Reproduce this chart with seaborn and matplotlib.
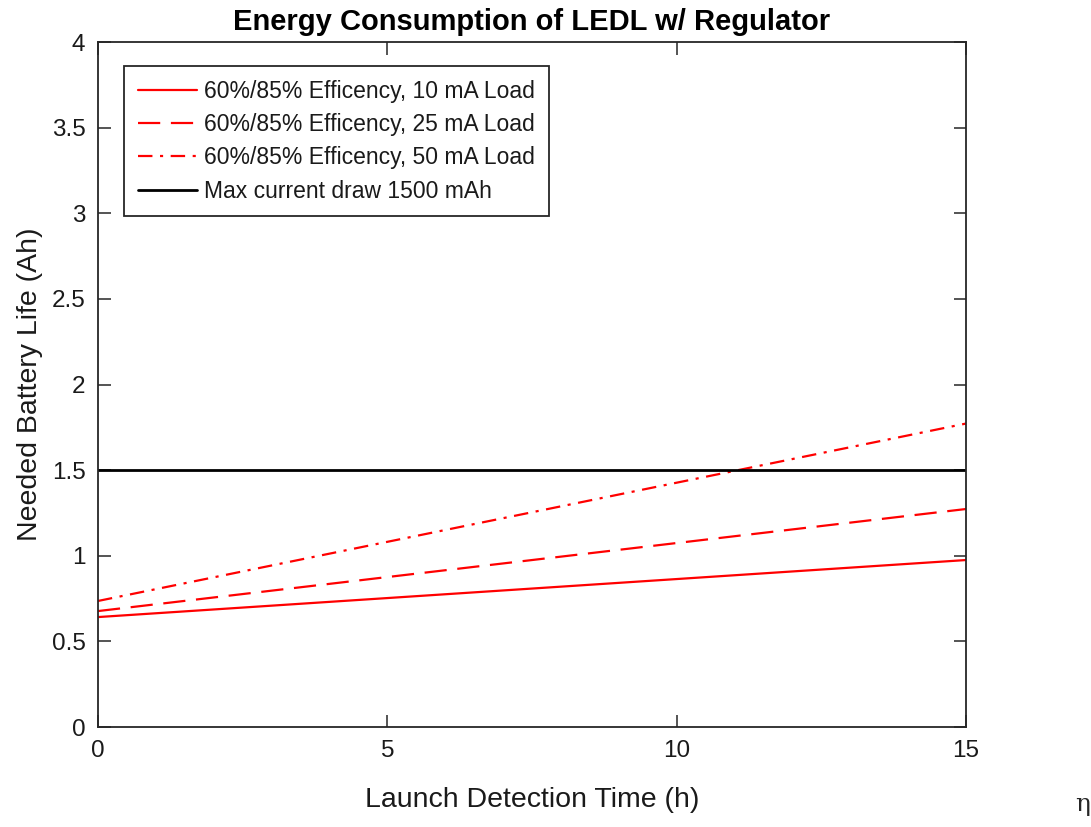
import numpy as np
import pandas as pd
import matplotlib
matplotlib.use("Agg")
import matplotlib.pyplot as plt
import seaborn as sns

# Launch detection time (h) and required battery capacity (Ah)
hours = [0, 15]
load_10ma = [0.642, 0.975]
load_25ma = [0.677, 1.273]
load_50ma = [0.736, 1.772]
max_draw = [1.5, 1.5]

labels = [
    "60%/85% Efficency, 10 mA Load",
    "60%/85% Efficency, 25 mA Load",
    "60%/85% Efficency, 50 mA Load",
    "Max current draw 1500 mAh",
]
x_ticks = [0, 5, 10, 15]
y_ticks = [0, 0.5, 1, 1.5, 2, 2.5, 3, 3.5, 4]
y_tick_labels = ["0", "0.5", "1", "1.5", "2", "2.5", "3", "3.5", "4"]

sns.set_theme(style="white")
plt.rcParams["font.family"] = ["Liberation Sans", "DejaVu Sans"]

df = pd.DataFrame({
    "time": hours * 4,
    "life": load_10ma + load_25ma + load_50ma + max_draw,
    "series": sum([[lab] * len(hours) for lab in labels], []),
})

fig = plt.figure(figsize=(10.91, 8.27), dpi=100)
ax = fig.add_axes([0.0898, 0.1209, 0.7956, 0.8283])

styles = [
    dict(color="#ff0000", ls="-", lw=1.6),
    dict(color="#ff0000", ls=(0, (10, 4.8)), lw=1.6),
    dict(color="#ff0000", ls=(0, (6.5, 3.4, 1.4, 3.4)), lw=1.6),
    dict(color="black", ls="-", lw=2.0),
]
for lab, st in zip(labels, styles):
    sub = df[df["series"] == lab]
    sns.lineplot(data=sub, x="time", y="life", ax=ax, label=lab,
                 color=st["color"], linestyle=st["ls"], linewidth=st["lw"])

ax.set_xlim(0, 15)
ax.set_ylim(0, 4)
ax.set_xticks(x_ticks)
ax.set_yticks(y_ticks)
ax.set_yticklabels(y_tick_labels)
ax.tick_params(direction="in", length=9, width=1.1, color="#262626",
               labelcolor="#1a1a1a", labelsize=17.5,
               top=True, right=True, bottom=True, left=True, pad=9)
for sp in ax.spines.values():
    sp.set_color("#262626")
    sp.set_linewidth(1.3)

ax.set_xlabel("Launch Detection Time (h)", fontsize=20.5, color="#1a1a1a", labelpad=18)
ax.set_ylabel("Needed Battery Life (Ah)", fontsize=20.5, color="#1a1a1a", labelpad=6)
ax.set_title("Energy Consumption of LEDL w/ Regulator", fontsize=21,
             fontweight="bold", color="black", pad=8.5)

leg = ax.legend(loc="upper left", bbox_to_anchor=(0.030, 0.965), fontsize=16.5,
                frameon=True, fancybox=False, framealpha=1,
                edgecolor="#262626", handlelength=2.6, borderpad=0.6,
                labelspacing=0.45, handletextpad=0.3, borderaxespad=0)
leg.get_frame().set_linewidth(1.3)
for t in leg.get_texts():
    t.set_color("#1a1a1a")

fig.text(0.9925, 0.027, "η", fontsize=18, family="DejaVu Serif",
         ha="center", va="center")

fig.savefig("out.png", dpi=100, facecolor="white")
